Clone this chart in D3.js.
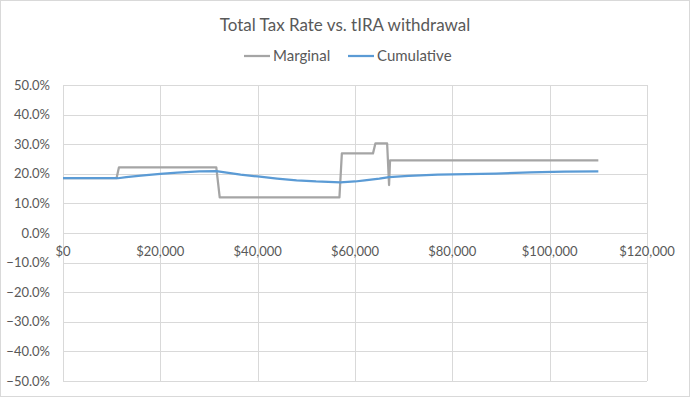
<!DOCTYPE html>
<html>
<head>
<meta charset="utf-8">
<script src="https://cdn.jsdelivr.net/npm/d3@7"></script>
<style>
  body { margin: 0; background: #fff; }
  svg { display: block; }
</style>
</head>
<body>
<div id="chart"></div>
<script>
// withdrawal amounts in $ and tax rates (fraction)
const marginalX = [0, 11000, 11500, 31500, 32200, 56800, 57300, 63700, 64200, 66600, 67000, 67200, 110000];
const marginalY = [0.185, 0.185, 0.222, 0.222, 0.120, 0.120, 0.269, 0.269, 0.303, 0.303, 0.162, 0.245, 0.245];

const cumulativeX = [0, 11300, 13000, 16000, 20000, 23500, 28000, 31500, 34000, 36500, 40000, 44000, 48000, 52000, 57000, 60000, 62000, 65000, 67000, 71000, 77000, 83000, 89000, 96000, 103000, 110000];
const cumulativeY = [0.185, 0.185, 0.189, 0.194, 0.200, 0.204, 0.208, 0.209, 0.203, 0.197, 0.191, 0.184, 0.178, 0.174, 0.171, 0.174, 0.178, 0.184, 0.189, 0.193, 0.197, 0.199, 0.201, 0.205, 0.207, 0.208];

const xTicks = [0, 20000, 40000, 60000, 80000, 100000, 120000];
const yTicks = [0.5, 0.4, 0.3, 0.2, 0.1, 0, -0.1, -0.2, -0.3, -0.4, -0.5];
const seriesNames = ['Marginal', 'Cumulative'];
const seriesColors = ['#A5A5A5', '#5B9BD5'];

const width = 690;
const height = 397;
const margin = { top: 85, right: 43, bottom: 16, left: 63 };
const font = 'Lato, "Liberation Sans", sans-serif';

const svg = d3.select('#chart')
  .append('svg')
  .attr('width', width)
  .attr('height', height)
  .attr('font-family', font);

svg.append('rect')
  .attr('x', 0.5).attr('y', 0.5)
  .attr('width', width - 1).attr('height', height - 1)
  .attr('fill', '#fff')
  .attr('stroke', '#D9D9D9');

const x = d3.scaleLinear()
  .domain([0, 120000])
  .range([margin.left, width - margin.right]);

const y = d3.scaleLinear()
  .domain([-0.5, 0.5])
  .range([height - margin.bottom, margin.top]);

// gridlines
svg.append('g')
  .selectAll('line')
  .data(yTicks)
  .join('line')
  .attr('x1', x(0)).attr('x2', x(120000))
  .attr('y1', (d) => Math.round(y(d)) + 0.5)
  .attr('y2', (d) => Math.round(y(d)) + 0.5)
  .attr('stroke', '#D9D9D9');

svg.append('g')
  .selectAll('line')
  .data(xTicks)
  .join('line')
  .attr('x1', (d) => Math.round(x(d)) + 0.5)
  .attr('x2', (d) => Math.round(x(d)) + 0.5)
  .attr('y1', y(0.5)).attr('y2', y(-0.5))
  .attr('stroke', '#D9D9D9');

// y labels
const fmtPct = d3.format('.1%');
svg.append('g')
  .attr('font-size', 13)
  .attr('fill', '#595959')
  .attr('text-anchor', 'end')
  .selectAll('text')
  .data(yTicks)
  .join('text')
  .attr('x', 50)
  .attr('y', (d) => y(d))
  .attr('dy', '0.35em')
  .text((d) => fmtPct(d));

// x labels sit just under the 0% line
const fmtDollar = (d) => '$' + d3.format(',')(d);
svg.append('g')
  .attr('font-size', 13)
  .attr('fill', '#595959')
  .attr('text-anchor', 'middle')
  .selectAll('text')
  .data(xTicks)
  .join('text')
  .attr('x', (d) => x(d))
  .attr('y', y(0) + 23)
  .text(fmtDollar);

const line = d3.line()
  .x((d) => x(d[0]))
  .y((d) => y(d[1]));

const series = [
  d3.zip(marginalX, marginalY),
  d3.zip(cumulativeX, cumulativeY),
];

svg.append('g')
  .selectAll('path')
  .data(series)
  .join('path')
  .attr('d', line)
  .attr('fill', 'none')
  .attr('stroke', (d, i) => seriesColors[i])
  .attr('stroke-width', 2.25)
  .attr('stroke-linejoin', 'round');

// title
svg.append('text')
  .attr('x', width / 2)
  .attr('y', 31)
  .attr('text-anchor', 'middle')
  .attr('font-size', 17)
  .attr('fill', '#595959')
  .text('Total Tax Rate vs. tIRA withdrawal');

// legend
const legendX = [244, 348];
const legend = svg.append('g')
  .selectAll('g')
  .data(seriesNames)
  .join('g')
  .attr('transform', (d, i) => `translate(${legendX[i]},56)`);

legend.append('line')
  .attr('x1', 0).attr('x2', 26)
  .attr('stroke', (d, i) => seriesColors[i])
  .attr('stroke-width', 2.25);

legend.append('text')
  .attr('x', 29)
  .attr('dy', '0.35em')
  .attr('font-size', 15)
  .attr('fill', '#595959')
  .text((d) => d);
</script>
</body>
</html>
